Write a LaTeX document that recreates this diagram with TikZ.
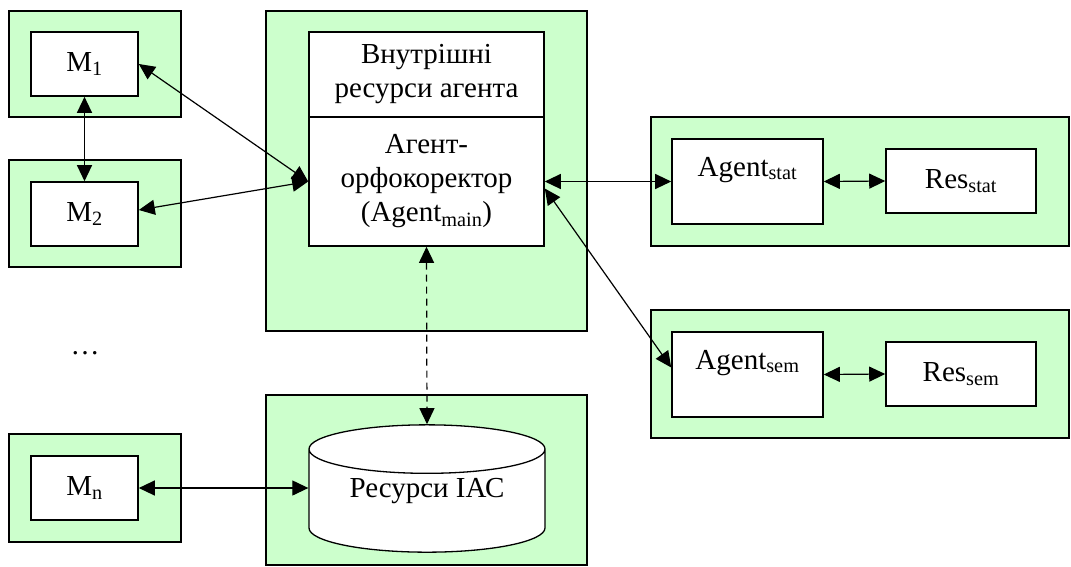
\documentclass[tikz,border=0pt]{standalone}
\usepackage{fontspec}
\setmainfont{Liberation Serif}
\usetikzlibrary{positioning,arrows.meta,shapes.geometric}
\definecolor{frmgreen}{HTML}{CCFFCC}
\tikzset{
  grnframe/.style={fill=frmgreen,draw=black,line width=1.2pt},
  blk/.style={draw=black,fill=white,line width=1.6pt,inner sep=2pt,align=center},
  agblk/.style={blk,text height=19pt,text depth=30pt}, % label sits high in the box
  db/.style={cylinder,shape border rotate=90,aspect=0.3,draw=black,fill=white,line width=1.3pt,
    anchor=shape center,text height=20pt,text depth=33pt},
  biarr/.style={{Triangle[length=16pt,width=15pt]}-{Triangle[length=16pt,width=15pt]},line width=1.2pt},
  dbarr/.style={biarr,dash pattern=on 7pt off 5pt},
}
\begin{document}
\begin{tikzpicture}[x=1pt,y=-1pt,font=\fontsize{29}{34}\selectfont]
  \useasboundingbox (0,0) rectangle (1071,566);
  % green frames
  \filldraw[grnframe] (9,11) rectangle (181,117);
  \filldraw[grnframe] (9,160) rectangle (181,267);
  \filldraw[grnframe] (9,434) rectangle (181,542);
  \filldraw[grnframe] (266,11) rectangle (587,331);
  \filldraw[grnframe] (266,395) rectangle (587,565);
  \filldraw[grnframe] (651,117) rectangle (1069,246);
  \filldraw[grnframe] (651,310) rectangle (1069,438);
  % modules
  \node[blk,minimum width=107pt,minimum height=64pt] (m1) at (84.5,64) {M\textsubscript{1}};
  \node[blk,minimum width=107pt,minimum height=64pt] (m2) at (84.5,214) {M\textsubscript{2}};
  \node (dots) at (85,353) {\dots};
  \node[blk,minimum width=107pt,minimum height=64pt] (mn) at (84.5,488) {M\textsubscript{n}};
  % main agent
  \node[blk,minimum width=235pt,minimum height=85pt] (intres) at (426.5,74.5) {Внутрішні\\ресурси агента};
  \node[blk,minimum width=235pt,minimum height=129pt] (main) at (426.5,181.5) {Агент-\\орфокоректор\\(Agent\textsubscript{main})};
  \node[db,minimum width=236pt,minimum height=113pt] (iac) at (427,488.5) {Ресурси ІАС};
  % helper agents
  \node[agblk,minimum width=151pt,minimum height=85pt] (agstat) at (747.5,181.5) {Agent\textsubscript{stat}};
  \node[blk,minimum width=150pt,minimum height=64pt] (resstat) at (961,181) {Res\textsubscript{stat}};
  \node[agblk,minimum width=151pt,minimum height=85pt] (agsem) at (747.5,374.5) {Agent\textsubscript{sem}};
  \node[blk,minimum width=150pt,minimum height=64pt] (ressem) at (961,374) {Res\textsubscript{sem}};
  % links
  \draw[biarr] (m1.south) -- (m2.north);
  \draw[biarr] (m1.east) -- (main.west);
  \draw[biarr] ([yshift=4pt]m2.east) -- (main.west);
  \draw[biarr] (main.east) -- (agstat.west);
  \draw[biarr] ([yshift=-7pt]main.east) -- ([yshift=7pt]agsem.west);
  \draw[biarr] (agstat.east) -- (resstat.west);
  \draw[biarr] (agsem.east) -- (ressem.west);
  \draw[dbarr] (main.south) -- (iac.north);
  \draw[biarr] (mn.east) -- (mn.east -| iac.west);
\end{tikzpicture}
\end{document}
